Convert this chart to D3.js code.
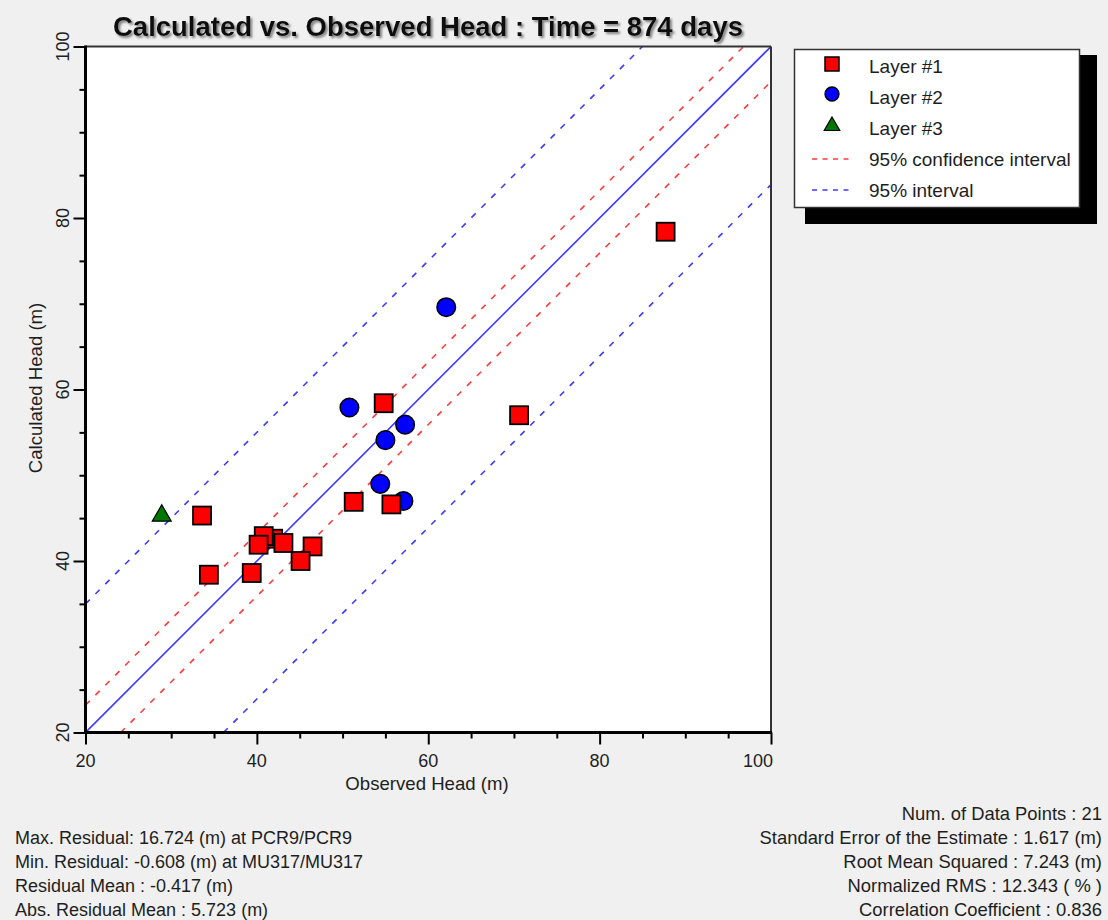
<!DOCTYPE html>
<html>
<head>
<meta charset="utf-8">
<script src="https://cdn.jsdelivr.net/npm/d3@7"></script>
<style>
  html, body { margin: 0; padding: 0; background: #f0f0f0; }
  svg { display: block; }
  text { font-family: "Liberation Sans", Arial, sans-serif; fill: #1e1e1e; }
</style>
</head>
<body>
<svg id="chart" width="1108" height="920"></svg>
<script>
// ---------------- data ----------------
const titleText = "Calculated vs. Observed Head : Time = 874 days";
const xTitle = "Observed Head (m)";
const yTitle = "Calculated Head (m)";

const majorTicks = [20, 40, 60, 80, 100];
const minorTicks = [25, 30, 35, 45, 50, 55, 65, 70, 75, 85, 90, 95];

// Layer #1 (red squares)
const layer1Obs  = [87.7, 70.6, 54.8, 51.3, 33.6, 34.4, 39.4, 41.9, 40.8, 40.2, 43.1, 46.5, 45.1, 55.7];
const layer1Calc = [78.4, 57.0, 58.4, 46.9, 45.3, 38.4, 38.6, 42.6, 42.9, 41.9, 42.1, 41.7, 40.0, 46.6];
// Layer #2 (blue circles)
const layer2Obs  = [62.1, 50.8, 57.3, 55.0, 54.4, 57.1];
const layer2Calc = [69.6, 57.9, 55.9, 54.1, 49.0, 47.0];
// Layer #3 (green triangle)
const layer3Obs  = [28.9];
const layer3Calc = [45.4];

// reference lines: [x0, x1], [y0, y1]
const lineOneX = [20, 100],   lineOneY = [20, 100];
const ciUpperX = [20, 96.8],  ciUpperY = [23.2, 100];
const ciLowerX = [24.1, 100], ciLowerY = [20, 95.9];
const piUpperX = [20, 85],    piUpperY = [35, 100];
const piLowerX = [36.1, 100], piLowerY = [20, 83.9];

const legendLabels = ["Layer #1", "Layer #2", "Layer #3", "95% confidence interval", "95% interval"];

const statsLeft = [
  "Max. Residual: 16.724 (m) at PCR9/PCR9",
  "Min. Residual: -0.608 (m) at MU317/MU317",
  "Residual Mean : -0.417 (m)",
  "Abs. Residual Mean : 5.723 (m)"
];
const statsRight = [
  "Num. of Data Points : 21",
  "Standard Error of the Estimate : 1.617 (m)",
  "Root Mean Squared : 7.243 (m)",
  "Normalized RMS : 12.343 ( % )",
  "Correlation Coefficient : 0.836"
];

// ---------------- layout ----------------
const svg = d3.select("#chart");
const plot = { left: 85.5, right: 771, top: 46.5, bottom: 732.5 };
const x = d3.scaleLinear().domain([20, 100]).range([plot.left, plot.right]);
const y = d3.scaleLinear().domain([20, 100]).range([plot.bottom, plot.top]);

const RED = "#ff0000", BLUE = "#0000ff", GREEN = "#007800";
const LRED = "#ff3b3b", LBLUE = "#3b3bff";

// defs
const defs = svg.append("defs");
const f = defs.append("filter").attr("id", "tshadow").attr("x", "-5%").attr("y", "-30%").attr("width", "110%").attr("height", "160%");
f.append("feDropShadow").attr("dx", 2).attr("dy", 2).attr("stdDeviation", 1.3).attr("flood-color", "#777").attr("flood-opacity", 0.9);
defs.append("clipPath").attr("id", "plotclip").append("rect")
  .attr("x", plot.left).attr("y", plot.top)
  .attr("width", plot.right - plot.left).attr("height", plot.bottom - plot.top);

// title
svg.append("text")
  .attr("x", 428).attr("y", 36)
  .attr("text-anchor", "middle")
  .style("font-size", "27.5px").style("font-weight", "bold")
  .style("fill", "#111")
  .attr("filter", "url(#tshadow)")
  .text(titleText);

// plot background
svg.append("rect")
  .attr("x", plot.left).attr("y", plot.top)
  .attr("width", plot.right - plot.left).attr("height", plot.bottom - plot.top)
  .attr("fill", "#fff");

// reference lines
const lineGen = (xs, ys) => d3.line()(xs.map((v, i) => [x(v), y(ys[i])]));
const lines = svg.append("g").attr("clip-path", "url(#plotclip)");
lines.append("path").attr("d", lineGen(piUpperX, piUpperY)).attr("stroke", LBLUE).attr("stroke-width", 1.6).attr("stroke-dasharray", "6,8").attr("fill", "none");
lines.append("path").attr("d", lineGen(piLowerX, piLowerY)).attr("stroke", LBLUE).attr("stroke-width", 1.6).attr("stroke-dasharray", "6,8").attr("fill", "none");
lines.append("path").attr("d", lineGen(ciUpperX, ciUpperY)).attr("stroke", LRED).attr("stroke-width", 1.6).attr("stroke-dasharray", "6,8").attr("fill", "none");
lines.append("path").attr("d", lineGen(ciLowerX, ciLowerY)).attr("stroke", LRED).attr("stroke-width", 1.6).attr("stroke-dasharray", "6,8").attr("fill", "none");
lines.append("path").attr("d", lineGen(lineOneX, lineOneY)).attr("stroke", LBLUE).attr("stroke-width", 1.6).attr("fill", "none");

// markers
const marks = svg.append("g");
const sq = 18;
marks.selectAll("circle.l2").data(layer2Obs.map((v, i) => [v, layer2Calc[i]])).join("circle")
  .attr("cx", d => x(d[0])).attr("cy", d => y(d[1])).attr("r", 9.3)
  .attr("fill", BLUE).attr("stroke", "#000").attr("stroke-width", 1.5);
marks.selectAll("rect.l1").data(layer1Obs.map((v, i) => [v, layer1Calc[i]])).join("rect")
  .attr("x", d => x(d[0]) - sq / 2).attr("y", d => y(d[1]) - sq / 2)
  .attr("width", sq).attr("height", sq)
  .attr("fill", RED).attr("stroke", "#000").attr("stroke-width", 1.8);
const tri = d3.symbol().type(d3.symbolTriangle).size(155);
marks.selectAll("path.l3").data(layer3Obs.map((v, i) => [v, layer3Calc[i]])).join("path")
  .attr("d", tri).attr("transform", d => `translate(${x(d[0])},${y(d[1]) + 1})`)
  .attr("fill", GREEN).attr("stroke", "#000").attr("stroke-width", 1.2);

// axes (ticks)
const xAxisMajor = d3.axisBottom(x).tickValues(majorTicks).tickSize(12).tickSizeOuter(0).tickFormat("");
const xAxisMinor = d3.axisBottom(x).tickValues(minorTicks).tickSize(6).tickSizeOuter(0).tickFormat("");
const yAxisMajor = d3.axisLeft(y).tickValues(majorTicks).tickSize(12).tickSizeOuter(0).tickFormat("");
const yAxisMinor = d3.axisLeft(y).tickValues(minorTicks).tickSize(6).tickSizeOuter(0).tickFormat("");
[[xAxisMajor, `translate(0,${plot.bottom})`], [xAxisMinor, `translate(0,${plot.bottom})`],
 [yAxisMajor, `translate(${plot.left},0)`], [yAxisMinor, `translate(${plot.left},0)`]].forEach(([ax, tr]) => {
  const g = svg.append("g").attr("transform", tr).call(ax);
  g.select(".domain").remove();
  g.selectAll(".tick line").attr("stroke", "#000").attr("stroke-width", 2);
});

// frame
svg.append("line").attr("x1", plot.left).attr("x2", plot.right).attr("y1", plot.top).attr("y2", plot.top).attr("stroke", "#333").attr("stroke-width", 2);
svg.append("line").attr("x1", plot.right).attr("x2", plot.right).attr("y1", plot.top).attr("y2", plot.bottom).attr("stroke", "#333").attr("stroke-width", 2);
svg.append("line").attr("x1", plot.left).attr("x2", plot.left).attr("y1", plot.top - 1).attr("y2", plot.bottom + 1.5).attr("stroke", "#000").attr("stroke-width", 3);
svg.append("line").attr("x1", plot.left - 1.5).attr("x2", plot.right + 1).attr("y1", plot.bottom).attr("y2", plot.bottom).attr("stroke", "#000").attr("stroke-width", 3);

// tick labels
svg.append("g").selectAll("text").data(majorTicks).join("text")
  .attr("x", d => d === 100 ? x(d) + 2 : x(d))
  .attr("y", 767)
  .attr("text-anchor", d => d === 100 ? "end" : "middle")
  .style("font-size", "18px")
  .text(d => d);
svg.append("g").selectAll("text").data(majorTicks).join("text")
  .attr("transform", d => `translate(69,${y(d)}) rotate(-90)`)
  .attr("text-anchor", "middle")
  .style("font-size", "18px")
  .text(d => d);

// axis titles
svg.append("text").attr("x", 427).attr("y", 790).attr("text-anchor", "middle").style("font-size", "18.6px").text(xTitle);
svg.append("text").attr("transform", `translate(42,388) rotate(-90)`).attr("text-anchor", "middle").style("font-size", "18.6px").text(yTitle);

// legend
const lg = svg.append("g");
lg.append("rect").attr("x", 805).attr("y", 55).attr("width", 292).attr("height", 169).attr("fill", "#000");
lg.append("rect").attr("x", 794.5).attr("y", 49.5).attr("width", 285).attr("height", 158).attr("fill", "#fff").attr("stroke", "#333").attr("stroke-width", 1.5);
const rowY = [66, 97, 128, 159, 190];
lg.selectAll("text").data(legendLabels).join("text")
  .attr("x", 869).attr("y", (d, i) => rowY[i] + 7)
  .style("font-size", "19px").text(d => d);
lg.append("rect").attr("x", 832 - 7).attr("y", rowY[0] - 9).attr("width", 14).attr("height", 14).attr("fill", RED).attr("stroke", "#000").attr("stroke-width", 1.5);
lg.append("circle").attr("cx", 832).attr("cy", rowY[1] - 3).attr("r", 7).attr("fill", BLUE).attr("stroke", "#000").attr("stroke-width", 1.3);
lg.append("path").attr("d", d3.symbol().type(d3.symbolTriangle).size(105)).attr("transform", `translate(832,${rowY[2] - 2})`).attr("fill", GREEN).attr("stroke", "#000").attr("stroke-width", 1.2);
lg.append("line").attr("x1", 812).attr("x2", 851).attr("y1", rowY[3]).attr("y2", rowY[3]).attr("stroke", LRED).attr("stroke-width", 1.6).attr("stroke-dasharray", "5,5.5");
lg.append("line").attr("x1", 812).attr("x2", 851).attr("y1", rowY[4]).attr("y2", rowY[4]).attr("stroke", LBLUE).attr("stroke-width", 1.6).attr("stroke-dasharray", "5,5.5");

// statistics
const leftY = [838, 862, 886, 910];
svg.append("g").selectAll("text").data(statsLeft).join("text")
  .attr("x", 15).attr("y", (d, i) => leftY[i] + 6).style("font-size", "18px").text(d => d);
const rightY = [814, 838, 862, 886, 910];
svg.append("g").selectAll("text").data(statsRight).join("text")
  .attr("x", 1102).attr("y", (d, i) => rightY[i] + 6).attr("text-anchor", "end").style("font-size", "18.4px").text(d => d);
</script>
</body>
</html>
